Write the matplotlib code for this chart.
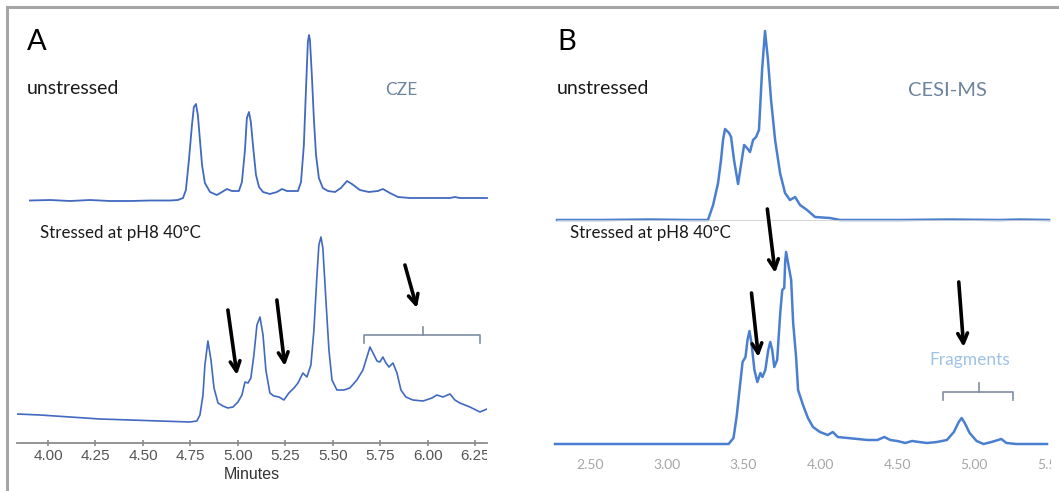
import matplotlib
matplotlib.use("Agg")
import matplotlib.pyplot as plt
from matplotlib.lines import Line2D
from matplotlib.transforms import Bbox, TransformedBbox

# panel A (CZE) - unstressed trace, minutes / intensity
cze_top_time = [3.905, 4.011, 4.116, 4.221, 4.326, 4.432, 4.537, 4.642, 4.684, 4.711, 4.726, 4.742,
                4.758, 4.768, 4.779, 4.789, 4.800, 4.811, 4.826, 4.853, 4.889, 4.916, 4.942, 4.968,
                5.005, 5.021, 5.037, 5.047, 5.058, 5.068, 5.079, 5.095, 5.111, 5.132, 5.168, 5.205,
                5.232, 5.258, 5.316, 5.332, 5.347, 5.358, 5.368, 5.374, 5.379, 5.389, 5.400, 5.411,
                5.426, 5.447, 5.474, 5.511, 5.542, 5.574, 5.600, 5.642, 5.689, 5.737, 5.763, 5.800,
                5.842, 5.905, 6.011, 6.116, 6.142, 6.168, 6.311]
cze_top_int = [2.5, 3, 2, 3, 2, 2, 2.5, 2.5, 3, 5, 13, 43,
               78, 96, 99, 88, 63, 38, 20, 11, 8, 11, 14, 12,
               12, 21, 53, 85, 91, 81, 58, 28, 16, 11, 9, 11,
               14, 12, 12, 21, 58, 113, 161, 168, 163, 128, 83, 48,
               25, 15, 12, 11, 15, 22, 19, 13, 11, 12, 14, 10,
               6, 5, 5, 5, 6, 5, 5]

# panel A (CZE) - stressed trace
cze_bot_time = [3.837, 3.958, 4.116, 4.274, 4.432, 4.589, 4.747, 4.784, 4.800, 4.816, 4.826, 4.842,
                4.858, 4.874, 4.895, 4.921, 4.947, 4.974, 5.000, 5.021, 5.037, 5.053, 5.068, 5.084,
                5.100, 5.116, 5.132, 5.147, 5.168, 5.189, 5.216, 5.242, 5.268, 5.295, 5.316, 5.342,
                5.363, 5.384, 5.400, 5.416, 5.426, 5.437, 5.447, 5.463, 5.479, 5.495, 5.521, 5.558,
                5.589, 5.626, 5.658, 5.679, 5.695, 5.711, 5.732, 5.747, 5.763, 5.779, 5.795, 5.816,
                5.837, 5.858, 5.884, 5.921, 5.974, 6.021, 6.047, 6.079, 6.116, 6.142, 6.168, 6.221,
                6.274, 6.311]
cze_bot_int = [29, 28, 26, 24, 23, 22, 21, 22, 28, 48, 78, 102,
               83, 55, 40, 37, 35, 36, 41, 48, 61, 60, 65, 88,
               118, 126, 108, 73, 50, 47, 46, 43, 50, 55, 60, 70,
               66, 78, 113, 168, 198, 206, 195, 143, 93, 63, 53, 53,
               55, 63, 73, 86, 96, 90, 82, 81, 86, 80, 76, 80,
               70, 53, 46, 43, 42, 45, 48, 46, 49, 43, 40, 36,
               31, 34]
cze_ticks = [4.00, 4.25, 4.50, 4.75, 5.00, 5.25, 5.50, 5.75, 6.00, 6.25]

# panel B (CESI-MS) - unstressed trace
cesi_top_time = [2.287, 2.565, 2.887, 3.145, 3.261, 3.294, 3.326, 3.345, 3.358, 3.371, 3.397, 3.410,
                 3.429, 3.455, 3.474, 3.494, 3.513, 3.532, 3.552, 3.571, 3.590, 3.610, 3.629, 3.648,
                 3.668, 3.694, 3.726, 3.758, 3.790, 3.823, 3.855, 3.900, 3.952, 4.048, 4.113, 4.500,
                 4.823, 5.145, 5.274, 5.461]
cesi_top_int = [1, 1, 1.5, 1, 1, 16, 38, 61, 81, 92, 88, 84,
                61, 37, 56, 76, 73, 69, 81, 84, 91, 151, 190, 161,
                121, 81, 48, 28, 21, 24, 16, 11, 4, 3, 1, 1,
                1.5, 1, 1.5, 1]

# panel B (CESI-MS) - stressed trace
cesi_bot_time = [2.274, 3.403, 3.435, 3.455, 3.474, 3.494, 3.513, 3.526, 3.539, 3.552, 3.571, 3.590,
                 3.610, 3.623, 3.642, 3.661, 3.674, 3.687, 3.700, 3.719, 3.739, 3.752, 3.765, 3.771,
                 3.777, 3.790, 3.810, 3.823, 3.842, 3.855, 3.887, 3.919, 3.952, 3.997, 4.048, 4.081,
                 4.113, 4.177, 4.242, 4.306, 4.371, 4.416, 4.455, 4.500, 4.552, 4.597, 4.642, 4.694,
                 4.758, 4.823, 4.868, 4.900, 4.919, 4.939, 4.971, 5.016, 5.061, 5.113, 5.177, 5.210,
                 5.274, 5.474]
cesi_bot_int = [0, 0, 6, 27, 54, 82, 87, 104, 113, 101, 74, 62,
                71, 67, 74, 94, 102, 94, 77, 84, 131, 154, 156, 182,
                192, 181, 164, 121, 87, 54, 39, 26, 17, 12, 9, 12,
                7, 6, 5, 4, 4, 7, 4, 3, 1, 3, 2, 1,
                2, 4, 12, 22, 26, 21, 11, 3, 0, 2, 5, 1,
                0, 0]
cesi_ticks = [2.50, 3.00, 3.50, 4.00, 4.50, 5.00, 5.50]

W, H = 1059, 491
fig = plt.figure(figsize=(W / 100, H / 100), dpi=100)
txt_font = ["Lato", "DejaVu Sans"]


def px_rect(x0, y0, x1, y1):
    return [x0 / W, 1 - y1 / H, (x1 - x0) / W, (y1 - y0) / H]


def fig_text(x, y, s, **kw):
    fig.text(x / W, 1 - y / H, s, va="center", family=txt_font, **kw)


def bare(ax):
    for sp in ax.spines.values():
        sp.set_visible(False)
    ax.set_yticks([])
    ax.patch.set_alpha(0)


def clip_labels(ax, right_px):
    box = TransformedBbox(Bbox([[0, 0], [right_px / W, 1]]), fig.transFigure)
    for lab in ax.get_xticklabels():
        lab.set_clip_on(True)
        lab.set_clip_box(box)


def arrow(ax, tail, head):
    ax.annotate("", xy=head, xytext=tail,
                arrowprops=dict(arrowstyle="->,head_length=0.7,head_width=0.35",
                                color="black", lw=2.6, shrinkA=0, shrinkB=0),
                annotation_clip=False)


def bracket(ax, t0, t1, tm, y, drop, rise):
    ax.plot([t0, t0, t1, t1], [y - drop, y, y, y - drop], color="#7d8ea3", lw=1.2, clip_on=False)
    ax.plot([tm, tm], [y, y + rise], color="#7d8ea3", lw=1.2, clip_on=False)


blue_a = "#4169c0"
blue_b = "#4a7fd0"

# ---- panel A ----
xlim_a = (3.837, 6.311)
ax_at = fig.add_axes(px_rect(17, 20, 487, 203))
ax_at.plot(cze_top_time, cze_top_int, color=blue_a, lw=1.3)
ax_at.hlines(-1.5, cze_top_time[0], cze_top_time[-1], color="#d0d0d0", lw=1.2)
ax_at.set_xlim(xlim_a)
ax_at.set_ylim(0, 183)
ax_at.set_xticks([])
bare(ax_at)
for l in ax_at.lines:
    l.set_clip_on(False)

ax_ab = fig.add_axes(px_rect(17, 222, 487, 443))
ax_ab.plot(cze_bot_time, cze_bot_int, color=blue_a, lw=1.2)
ax_ab.set_xlim(xlim_a)
ax_ab.set_ylim(0, 221)
bare(ax_ab)
ax_ab.spines["bottom"].set_visible(True)
ax_ab.spines["bottom"].set_color("#8c8c8c")
ax_ab.spines["bottom"].set_linewidth(1.3)
ax_ab.set_xticks(cze_ticks)
ax_ab.set_xticklabels([f"{t:.2f}" for t in cze_ticks], family="Liberation Sans",
                      fontsize=11, color="#555555")
ax_ab.tick_params(axis="x", direction="inout", length=5, width=1.2, color="#8c8c8c", pad=2)
ax_ab.set_xlabel("Minutes", family="Liberation Sans", fontsize=11.5, color="#333333", labelpad=3)
clip_labels(ax_ab, 487)

arrow(ax_ab, (4.947, 133), (4.995, 68))
arrow(ax_ab, (5.205, 143), (5.247, 77))
arrow(ax_ab, (5.879, 178), (5.942, 135))
bracket(ax_ab, 5.663, 6.274, 5.974, 108, 8, 8)

# ---- panel B ----
xlim_b = (2.274, 5.474)
ax_bt = fig.add_axes(px_rect(555, 20, 1051, 221))
ax_bt.plot(cesi_top_time, cesi_top_int, color=blue_b, lw=1.8)
ax_bt.hlines(-0.5, cesi_top_time[0], xlim_b[1], color="#d0d0d0", lw=1.2)
ax_bt.set_xlim(xlim_b)
ax_bt.set_ylim(0, 201)
ax_bt.set_xticks([])
bare(ax_bt)
for l in ax_bt.lines:
    l.set_clip_on(False)

ax_bb = fig.add_axes(px_rect(555, 222, 1051, 444))
ax_bb.plot(cesi_bot_time, cesi_bot_int, color=blue_b, lw=1.8, clip_on=False)
ax_bb.set_xlim(xlim_b)
ax_bb.set_ylim(0, 222)
bare(ax_bb)
ax_bb.set_xticks(cesi_ticks)
ax_bb.set_xticklabels([f"{t:.2f}" for t in cesi_ticks], family=txt_font,
                      fontsize=10, color="#a6a6a6")
ax_bb.tick_params(axis="x", length=0, pad=11)
clip_labels(ax_bb, 1051)

arrow(ax_bb, (3.655, 235), (3.706, 171))
arrow(ax_bb, (3.552, 151), (3.597, 87))
arrow(ax_bb, (4.900, 162), (4.932, 97))
bracket(ax_bb, 4.797, 5.255, 5.029, 52, 8, 9)
ax_bb.text(4.971, 84, "Fragments", ha="center", va="center", family=txt_font,
           fontsize=12.5, color="#9dc3e6")

# ---- labels ----
fig_text(27, 42, "A", fontsize=21, color="black")
fig_text(27, 89, "unstressed", fontsize=14, color="#1a1a1a")
fig_text(385, 90, "CZE", fontsize=12.5, color="#6e849c")
fig_text(40, 233, "Stressed at pH8 40°C", fontsize=12.2, color="#1a1a1a")

fig_text(557, 42, "B", fontsize=21, color="black")
fig_text(557, 89, "unstressed", fontsize=14, color="#1a1a1a")
fig_text(908, 90, "CESI-MS", fontsize=14.5, color="#6e849c")
fig_text(570, 233, "Stressed at pH8 40°C", fontsize=12.2, color="#1a1a1a")

# ---- outer frame (top and left edges) ----
fig.add_artist(Line2D([7 / W, 1], [1 - 7 / H, 1 - 7 / H], color="#a6a6a6", lw=2.2))
fig.add_artist(Line2D([7 / W, 7 / W], [0, 1 - 7 / H], color="#a6a6a6", lw=2.2))

fig.savefig("out.png", dpi=100)
